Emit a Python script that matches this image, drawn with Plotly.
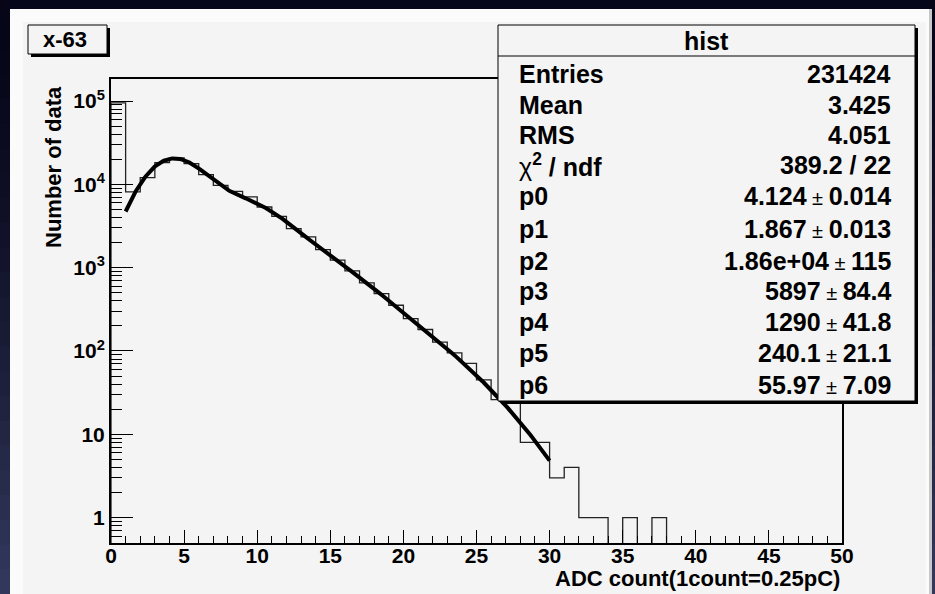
import numpy as np
import plotly.graph_objects as go

# ---- histogram "hist" (channel x-63): unit bins from 0 to 50 ----
bin_edges = list(range(0, 51))
counts = [95400, 8110, 12060, 18250, 20750, 17760, 13100, 9750, 8260, 7060,
          5350, 4140, 2940, 2340, 1650, 1230, 914, 656, 489, 354,
          245, 181, 128, 95, 71, 45, 26, 27, 8, 8,
          3, 4, 1, 1, 0, 1, 0, 1, 0, 0,
          0, 0, 0, 0, 0, 0, 0, 0, 0, 0]

# ---- fit: sum of n-photoelectron gaussians, n = 1..5 ----
fit_names = ["p0", "p1", "p2", "p3", "p4", "p5", "p6"]
fit_values = [4.124, 1.867, 1.86e4, 5897, 1290, 240.1, 55.97]
fit_text = ["4.124", "1.867", "1.86e+04", "5897", "1290", "240.1", "55.97"]
fit_errors = ["0.014", "0.013", "115", "84.4", "41.8", "21.1", "7.09"]
fit_range = [1, 30]

# ---- statistics box ----
stat_title = "hist"
stat_labels = ["Entries", "Mean", "RMS"]
stat_values = ["231424", "3.425", "4.051"]
chi2_text = "389.2 / 22"

# ---- axes ----
x_ticks = [0, 5, 10, 15, 20, 25, 30, 35, 40, 45, 50]
y_ticks = [1, 10, 100, 1000, 10000, 100000]
y_ticktext = ["1", "10", "10<sup>2</sup>", "10<sup>3</sup>", "10<sup>4</sup>", "10<sup>5</sup>"]
x_title = "ADC count(1count=0.25pC)"
y_title = "Number of data"
pad_label = "x-63"

W, H = 935, 594
L, R, T, B = 111, 842, 79, 543   # plot frame in pixels


def fx(px):
    return (px - L) / (R - L)


def fy(py):
    return (B - py) / (B - T)


FONT = "Liberation Sans, Arial, Helvetica, sans-serif"
CANVAS = "#f4f4f4"

# step outline; empty bins fall below the visible log range
floor = 0.05
ys = [c if c > 0 else floor for c in counts]
step_x = [bin_edges[0]] + bin_edges + [bin_edges[-1]]
step_y = [floor] + ys + [ys[-1], floor]
step_y = step_y[:len(step_x)]


def fit_func(x, p):
    mu, sig = p[0], p[1]
    total = np.zeros_like(x)
    for n, amp in enumerate(p[2:], start=1):
        s = sig * np.sqrt(n)
        total += amp * np.exp(-0.5 * ((x - n * mu) / s) ** 2)
    return total


fx_curve = np.linspace(fit_range[0], fit_range[1], 400)
fy_curve = fit_func(fx_curve, fit_values)

fig = go.Figure()
fig.add_trace(go.Scatter(x=step_x, y=step_y, mode="lines", line_shape="hv",
                         line=dict(color="#222222", width=1.3),
                         hoverinfo="skip", showlegend=False))
fig.add_trace(go.Scatter(x=fx_curve, y=fy_curve, mode="lines",
                         line=dict(color="black", width=4),
                         hoverinfo="skip", showlegend=False))

shapes = []


def rect(x0, y0, x1, y1, fill, line_color=None, lw=0, layer="below"):
    shapes.append(dict(type="rect", xref="paper", yref="paper",
                       x0=fx(x0), x1=fx(x1), y0=fy(y1), y1=fy(y0),
                       fillcolor=fill, layer=layer,
                       line=dict(color=line_color or fill, width=lw)))


# dark slide background with a bluish glow toward the bottom edges
def mix(c0, c1, t):
    return "#%02x%02x%02x" % tuple(int(round(a + (b - a) * t)) for a, b in zip(c0, c1))


top_col, bot_col = (6, 6, 24), (50, 56, 92)
nb = 24
for i in range(nb):
    y0 = H * i / nb
    y1 = H * (i + 1) / nb + 1
    col = mix(top_col, bot_col, (i / (nb - 1)) ** 1.5)
    rect(0, y0, 10, y1, col)
    rect(932, y0, W, y1, col)

# canvas with a light bevel
rect(10, 9, 932, H, "#fbfbfb")
rect(929, 9, 932, H, "#c8c8c8")
rect(23, 22, 926, H, CANVAS)

# pad label box with shadow
rect(31, 28, 110, 57, "black", layer="above")
rect(28, 25, 107, 54, CANVAS, "black", 1, layer="above")

# statistics box with shadow
rect(501, 28, 918, 404, "black", layer="above")
rect(498, 25, 915, 401, CANVAS, "black", 1, layer="above")
shapes.append(dict(type="line", xref="paper", yref="paper",
                   x0=fx(498), x1=fx(915), y0=fy(56), y1=fy(56),
                   line=dict(color="black", width=1), layer="above"))

annotations = []
tf = dict(family=FONT, size=25, color="black", weight="bold")

annotations.append(dict(text=pad_label, xref="paper", yref="paper",
                        x=fx(65), y=fy(40), xanchor="center", yanchor="middle",
                        showarrow=False,
                        font=dict(family=FONT, size=22, color="black", weight="bold")))
annotations.append(dict(text=stat_title, xref="paper", yref="paper",
                        x=fx(706), y=fy(41), xanchor="center", yanchor="middle",
                        showarrow=False, font=tf))

row_y = [74, 105, 135, 165, 196, 229, 261, 291, 322, 353, 385]
pm = '<span style="font-size:20px;font-weight:normal"> ± </span>'
left_col = stat_labels + ['<span style="font-weight:normal">χ</span><sup>2</sup> / ndf'] + fit_names
right_col = stat_values + [chi2_text] + [v + pm + e for v, e in zip(fit_text, fit_errors)]
for yy, lt, rt in zip(row_y, left_col, right_col):
    annotations.append(dict(text=lt, xref="paper", yref="paper", x=fx(517), y=fy(yy),
                            xanchor="left", yanchor="middle", showarrow=False, font=tf))
    annotations.append(dict(text=rt, xref="paper", yref="paper", x=fx(893), y=fy(yy),
                            xanchor="right", yanchor="middle", showarrow=False, font=tf))

# axis titles
annotations.append(dict(text=x_title, xref="paper", yref="paper", x=1.0, y=fy(578),
                        xanchor="right", yanchor="middle", showarrow=False,
                        font=dict(family=FONT, size=22, color="black", weight="bold")))
annotations.append(dict(text=y_title, xref="paper", yref="paper", x=fx(53), y=fy(84),
                        xanchor="center", yanchor="top", textangle=-90, showarrow=False,
                        font=dict(family=FONT, size=22, color="black", weight="bold")))

y_minor = [k * 10.0 ** d for d in range(-1, 6) for k in range(2, 10)
           if 0.5 <= k * 10.0 ** d <= 1.8e5]

fig.update_layout(
    width=W, height=H,
    margin=dict(l=L, r=W - R, t=T, b=H - B, pad=0),
    paper_bgcolor="#06061a",
    plot_bgcolor=CANVAS,
    showlegend=False,
    shapes=shapes,
    annotations=annotations,
    xaxis=dict(range=[0, 50], tickmode="array", tickvals=x_ticks,
               ticks="inside", ticklen=13, tickwidth=1.3, tickcolor="black",
               ticklabelstandoff=-7,
               showline=True, linecolor="black", linewidth=2, mirror=True,
               showgrid=False, zeroline=False,
               minor=dict(tickmode="linear", tick0=0, dtick=1, ticks="inside",
                          ticklen=7, tickwidth=1.3, tickcolor="black", showgrid=False),
               tickfont=dict(family=FONT, size=21, color="black", weight="bold")),
    yaxis=dict(type="log", range=[-0.305, 5.265], tickmode="array",
               tickvals=y_ticks, ticktext=y_ticktext,
               ticks="inside", ticklen=22, tickwidth=1.3, tickcolor="black",
               showline=True, linecolor="black", linewidth=2, mirror=True,
               showgrid=False, zeroline=False,
               minor=dict(tickmode="array", tickvals=y_minor, ticks="inside",
                          ticklen=11, tickwidth=1.3, tickcolor="black", showgrid=False),
               tickfont=dict(family=FONT, size=21, color="black", weight="bold")),
)

fig.write_html("out.html")
